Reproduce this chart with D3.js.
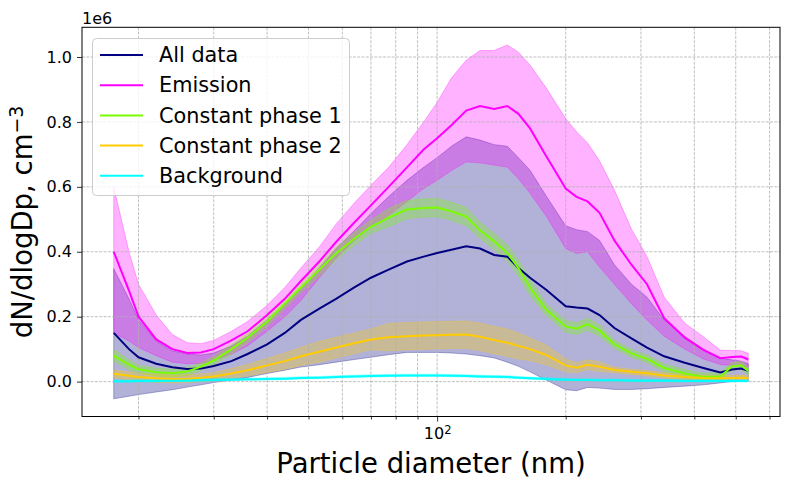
<!DOCTYPE html>
<html>
<head>
<meta charset="utf-8">
<script src="https://cdn.jsdelivr.net/npm/d3@7"></script>
<style>
  body { margin: 0; background: #fff; }
  svg { display: block; font-family: "DejaVu Sans", sans-serif; }
</style>
</head>
<body>
<div id="chart"></div>
<script>
// particle diameter bins (nm)
const diameters = [17.5, 19, 20, 22, 24, 26, 28, 30, 33, 36, 40, 44, 48, 53, 58, 64, 70, 77, 85, 93,
  100, 108, 117, 126, 136, 146, 155, 165, 180, 200, 212, 225, 240, 260, 285, 310, 340, 380, 420, 460,
  490, 515, 535];

// dN/dlogDp in units of 1e6 cm^-3: mean, lower and upper band
const allMean = [0.15, 0.10, 0.075, 0.055, 0.044, 0.039, 0.04, 0.048, 0.063, 0.085, 0.115, 0.15, 0.19, 0.225, 0.255, 0.29, 0.32, 0.345, 0.37, 0.385,
  0.396, 0.406, 0.417, 0.41, 0.39, 0.385, 0.35, 0.32, 0.283, 0.232, 0.228, 0.225, 0.205, 0.165, 0.133, 0.105, 0.078, 0.058, 0.042, 0.028,
  0.037, 0.04, 0.033];
const allLow = [-0.053, -0.045, -0.04, -0.032, -0.025, -0.017, -0.01, -0.003, 0.005, 0.013, 0.025, 0.035, 0.045, 0.052, 0.06, 0.068, 0.075, 0.083, 0.09, 0.09,
  0.09, 0.088, 0.085, 0.08, 0.073, 0.06, 0.047, 0.03, 0.005, -0.025, -0.028, -0.018, -0.02, -0.024, -0.024, -0.022, -0.018, -0.014, -0.01, -0.004,
  0.0, 0.001, 0.001];
const allHigh = [0.348, 0.255, 0.19, 0.125, 0.095, 0.085, 0.082, 0.088, 0.11, 0.14, 0.19, 0.24, 0.288, 0.35, 0.41, 0.465, 0.518, 0.57, 0.62, 0.66,
  0.69, 0.725, 0.754, 0.744, 0.73, 0.725, 0.69, 0.651, 0.572, 0.48, 0.468, 0.462, 0.435, 0.36, 0.30, 0.26, 0.19, 0.14, 0.10, 0.072,
  0.067, 0.063, 0.055];

const emMean = [0.40, 0.28, 0.20, 0.13, 0.10, 0.088, 0.09, 0.10, 0.127, 0.155, 0.205, 0.255, 0.31, 0.37, 0.43, 0.49, 0.543, 0.60, 0.66, 0.715,
  0.75, 0.79, 0.835, 0.849, 0.84, 0.849, 0.825, 0.78, 0.695, 0.595, 0.569, 0.555, 0.52, 0.435, 0.36, 0.30, 0.195, 0.135, 0.098, 0.072,
  0.076, 0.077, 0.068];
const emLow = [0.15, 0.125, 0.105, 0.08, 0.06, 0.055, 0.056, 0.065, 0.085, 0.11, 0.155, 0.20, 0.25, 0.32, 0.38, 0.435, 0.476, 0.512, 0.555, 0.595,
  0.62, 0.65, 0.677, 0.674, 0.667, 0.661, 0.625, 0.58, 0.51, 0.41, 0.395, 0.40, 0.353, 0.30, 0.24, 0.19, 0.14, 0.10, 0.07, 0.053,
  0.05, 0.048, 0.044];
const emHigh = [0.60, 0.40, 0.30, 0.205, 0.145, 0.12, 0.117, 0.127, 0.155, 0.185, 0.235, 0.29, 0.35, 0.415, 0.485, 0.55, 0.605, 0.66, 0.73, 0.80,
  0.86, 0.935, 0.99, 1.02, 1.02, 1.037, 1.015, 0.975, 0.905, 0.81, 0.77, 0.735, 0.68, 0.59, 0.47, 0.385, 0.26, 0.18, 0.138, 0.097,
  0.096, 0.095, 0.087];

const cp1Mean = [0.08, 0.052, 0.038, 0.029, 0.026, 0.031, 0.046, 0.065, 0.10, 0.135, 0.185, 0.24, 0.29, 0.345, 0.395, 0.44, 0.477, 0.505, 0.53, 0.535,
  0.536, 0.525, 0.508, 0.466, 0.432, 0.396, 0.35, 0.29, 0.222, 0.17, 0.163, 0.177, 0.157, 0.115, 0.087, 0.07, 0.042, 0.025, 0.014, 0.016,
  0.047, 0.05, 0.033];
const cp1Low = [0.062, 0.037, 0.026, 0.017, 0.014, 0.019, 0.034, 0.053, 0.085, 0.12, 0.17, 0.225, 0.275, 0.325, 0.375, 0.42, 0.457, 0.477, 0.502, 0.507,
  0.508, 0.497, 0.48, 0.441, 0.407, 0.371, 0.325, 0.265, 0.204, 0.152, 0.145, 0.159, 0.139, 0.103, 0.075, 0.058, 0.03, 0.013, 0.002, 0.004,
  0.035, 0.038, 0.021];
const cp1High = [0.098, 0.067, 0.05, 0.041, 0.038, 0.043, 0.058, 0.077, 0.115, 0.15, 0.20, 0.255, 0.305, 0.365, 0.415, 0.46, 0.497, 0.533, 0.558, 0.563,
  0.564, 0.553, 0.536, 0.491, 0.457, 0.421, 0.375, 0.315, 0.24, 0.188, 0.181, 0.195, 0.175, 0.127, 0.099, 0.082, 0.054, 0.037, 0.026, 0.028,
  0.059, 0.062, 0.045];

const cp2Mean = [0.024, 0.018, 0.014, 0.01, 0.008, 0.009, 0.012, 0.016, 0.025, 0.035, 0.05, 0.063, 0.078, 0.092, 0.105, 0.118, 0.13, 0.137, 0.14, 0.142,
  0.143, 0.144, 0.145, 0.138, 0.128, 0.12, 0.11, 0.10, 0.082, 0.05, 0.043, 0.052, 0.046, 0.036, 0.03, 0.026, 0.019, 0.014, 0.011, 0.01,
  0.011, 0.012, 0.011];
const cp2Low = [0.012, 0.006, 0.002, -0.002, -0.004, -0.003, 0.0, 0.004, 0.010, 0.017, 0.028, 0.038, 0.050, 0.060, 0.073, 0.086, 0.098, 0.095, 0.098, 0.100,
  0.101, 0.102, 0.103, 0.096, 0.086, 0.078, 0.070, 0.065, 0.052, 0.030, 0.028, 0.037, 0.031, 0.028, 0.022, 0.018, 0.011, 0.006, 0.003, 0.002,
  0.003, 0.004, 0.003];
const cp2High = [0.036, 0.030, 0.026, 0.022, 0.020, 0.021, 0.024, 0.028, 0.040, 0.053, 0.072, 0.088, 0.106, 0.124, 0.137, 0.150, 0.162, 0.179, 0.182, 0.184,
  0.185, 0.186, 0.187, 0.180, 0.170, 0.162, 0.150, 0.135, 0.112, 0.070, 0.058, 0.067, 0.061, 0.044, 0.038, 0.034, 0.027, 0.022, 0.019, 0.018,
  0.019, 0.020, 0.019];

const bgMean = [0.001, 0.001, 0.002, 0.002, 0.003, 0.003, 0.004, 0.005, 0.006, 0.007, 0.008, 0.009, 0.011, 0.012, 0.014, 0.016, 0.017, 0.018, 0.019, 0.019,
  0.019, 0.018, 0.017, 0.016, 0.015, 0.014, 0.012, 0.010, 0.008, 0.006, 0.005, 0.005, 0.004, 0.004, 0.003, 0.003, 0.003, 0.002, 0.002, 0.002,
  0.002, 0.002, 0.002];
const bgLow = [-0.002, -0.002, -0.001, -0.001, 0.0, 0.0, 0.001, 0.002, 0.003, 0.004, 0.005, 0.006, 0.008, 0.009, 0.011, 0.013, 0.014, 0.015, 0.016, 0.016,
  0.016, 0.015, 0.014, 0.013, 0.012, 0.011, 0.009, 0.007, 0.005, 0.003, 0.002, 0.002, 0.001, 0.001, 0.0, 0.0, 0.0, -0.001, -0.001, -0.001,
  -0.001, -0.001, -0.001];
const bgHigh = [0.005, 0.005, 0.006, 0.006, 0.007, 0.007, 0.008, 0.009, 0.010, 0.011, 0.012, 0.013, 0.015, 0.016, 0.018, 0.020, 0.021, 0.022, 0.023, 0.023,
  0.023, 0.022, 0.021, 0.020, 0.019, 0.018, 0.016, 0.014, 0.012, 0.010, 0.009, 0.009, 0.008, 0.008, 0.007, 0.007, 0.007, 0.006, 0.006, 0.006,
  0.006, 0.006, 0.006];

const labels = ["All data", "Emission", "Constant phase 1", "Constant phase 2", "Background"];
const colors = ["#000080", "#ff00ff", "#7cfc00", "#ffcc00", "#00ffff"];

const yTicks = [0, 0.2, 0.4, 0.6, 0.8, 1.0];
const xMajorTicks = [100];
const xMinorTicks = [20, 30, 40, 50, 60, 70, 80, 90, 200, 300, 400, 500, 600];

const series = [
  { mean: allMean, low: allLow, high: allHigh },
  { mean: emMean, low: emLow, high: emHigh },
  { mean: cp1Mean, low: cp1Low, high: cp1High },
  { mean: cp2Mean, low: cp2Low, high: cp2High },
  { mean: bgMean, low: bgLow, high: bgHigh }
].map((s, i) => ({ ...s, label: labels[i], color: colors[i] }));

// Dimensions
const width = 790;
const height = 489;
const marginTop = 27.3;
const marginRight = 10;
const marginBottom = 72.5;
const marginLeft = 82;

// Scales (matplotlib-like 5% margins; log margin on x)
const lx = d3.extent(diameters).map(Math.log10);
const padX = (lx[1] - lx[0]) * 0.05;
const x = d3.scaleLog()
  .domain([Math.pow(10, lx[0] - padX), Math.pow(10, lx[1] + padX)])
  .range([marginLeft, width - marginRight]);

const yMin = d3.min(series, s => d3.min(s.low));
const yMax = d3.max(series, s => d3.max(s.high));
const padY = (yMax - yMin) * 0.05;
const y = d3.scaleLinear()
  .domain([yMin - padY, yMax + padY])
  .range([height - marginBottom, marginTop]);

const svg = d3.select("#chart")
  .append("svg")
  .attr("width", width)
  .attr("height", height)
  .attr("viewBox", [0, 0, width, height]);

svg.append("defs").append("clipPath").attr("id", "plot")
  .append("rect")
  .attr("x", marginLeft).attr("y", marginTop)
  .attr("width", width - marginLeft - marginRight)
  .attr("height", height - marginTop - marginBottom);

const plot = svg.append("g").attr("clip-path", "url(#plot)");

// Bands
const area = d3.area()
  .x((d, i) => x(diameters[i]))
  .y0(d => y(d[0]))
  .y1(d => y(d[1]));

plot.append("g")
  .selectAll("path")
  .data(series)
  .join("path")
  .attr("d", s => area(s.low.map((v, i) => [v, s.high[i]])))
  .attr("fill", s => s.color)
  .attr("fill-opacity", 0.3)
  .attr("stroke", s => s.color)
  .attr("stroke-opacity", 0.3)
  .attr("stroke-width", 1);

// Grid
const grid = plot.append("g")
  .attr("stroke", "#b0b0b0")
  .attr("stroke-width", 0.8)
  .attr("stroke-dasharray", "3,1.3");

grid.selectAll(".gx")
  .data(xMajorTicks.concat(xMinorTicks))
  .join("line")
  .attr("x1", d => x(d)).attr("x2", d => x(d))
  .attr("y1", marginTop).attr("y2", height - marginBottom);

grid.selectAll(".gy")
  .data(yTicks)
  .join("line")
  .attr("x1", marginLeft).attr("x2", width - marginRight)
  .attr("y1", d => y(d)).attr("y2", d => y(d));

// Mean lines
const line = d3.line()
  .x((d, i) => x(diameters[i]))
  .y(d => y(d));

plot.append("g")
  .attr("fill", "none")
  .selectAll("path")
  .data(series)
  .join("path")
  .attr("d", s => line(s.mean))
  .attr("stroke", s => s.color)
  .attr("stroke-width", 2);

// Axes
svg.append("g")
  .attr("transform", `translate(0,${height - marginBottom})`)
  .call(d3.axisBottom(x).tickValues(xMinorTicks).tickSize(3).tickFormat(""))
  .call(g => g.select(".domain").remove());

const xMajor = svg.append("g")
  .attr("transform", `translate(0,${height - marginBottom})`)
  .call(d3.axisBottom(x).tickValues(xMajorTicks).tickSize(5).tickPadding(6))
  .call(g => g.select(".domain").remove());

xMajor.selectAll(".tick text")
  .attr("font-size", 16)
  .attr("font-family", "DejaVu Sans")
  .attr("fill", "#000")
  .text(null)
  .call(t => {
    t.append("tspan").text("10");
    t.append("tspan").attr("dy", "-0.45em").attr("font-size", 11.5).text(d => Math.round(Math.log10(d)));
  });

svg.append("g")
  .attr("transform", `translate(${marginLeft},0)`)
  .call(d3.axisLeft(y).tickValues(yTicks).tickSize(5).tickPadding(5).tickFormat(d3.format(".1f")))
  .call(g => g.select(".domain").remove())
  .call(g => g.selectAll(".tick text").attr("font-size", 16).attr("font-family", "DejaVu Sans").attr("fill", "#000"));

svg.selectAll(".tick line").attr("stroke", "#000").attr("stroke-width", 0.8);

// Frame
svg.append("rect")
  .attr("x", marginLeft).attr("y", marginTop)
  .attr("width", width - marginLeft - marginRight)
  .attr("height", height - marginTop - marginBottom)
  .attr("fill", "none")
  .attr("stroke", "#000")
  .attr("stroke-width", 1);

// Offset text and labels
svg.append("text")
  .attr("x", marginLeft)
  .attr("y", 23.5)
  .attr("font-size", 16)
  .text("1e6");

svg.append("text")
  .attr("x", (marginLeft + width - marginRight) / 2)
  .attr("y", 473)
  .attr("text-anchor", "middle")
  .attr("font-size", 27.5)
  .text("Particle diameter (nm)");

const ylab = svg.append("text")
  .attr("transform", `translate(32,${(marginTop + height - marginBottom) / 2}) rotate(-90)`)
  .attr("text-anchor", "middle")
  .attr("font-size", 27.5);
ylab.append("tspan").text("dN/dlogDp, cm");
ylab.append("tspan").attr("dy", "-0.45em").attr("font-size", 19).text("\u22123");

// Legend
const legend = svg.append("g");
legend.append("rect")
  .attr("x", 92.5).attr("y", 38.5)
  .attr("width", 257).attr("height", 157)
  .attr("rx", 4)
  .attr("fill", "#fff").attr("fill-opacity", 0.8)
  .attr("stroke", "#cccccc").attr("stroke-width", 1);

const item = legend.selectAll(".item")
  .data(series)
  .join("g")
  .attr("transform", (d, i) => `translate(0,${55 + i * 30.2})`);

item.append("line")
  .attr("x1", 100).attr("x2", 143)
  .attr("stroke", d => d.color)
  .attr("stroke-width", 2);

item.append("text")
  .attr("x", 159)
  .attr("dy", "0.35em")
  .attr("font-size", 20.8)
  .text(d => d.label);
</script>
</body>
</html>
